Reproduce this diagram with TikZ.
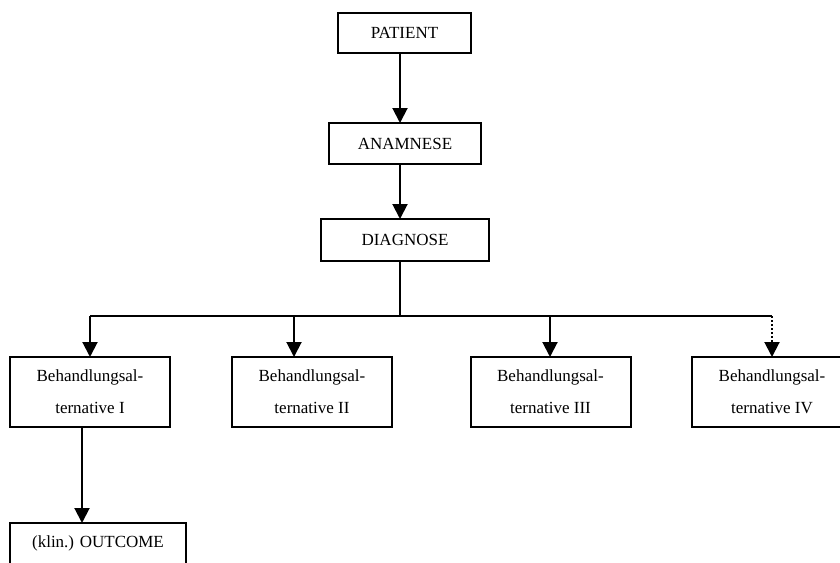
\documentclass[tikz,border=0pt]{standalone}
\usepackage{fontspec}
\setmainfont{Liberation Serif}
\usetikzlibrary{arrows.meta}
\begin{document}
\begin{tikzpicture}[x=1pt,y=-1pt,
  every node/.style={inner sep=0pt,outer sep=0pt},
  stepbox/.style={draw=black,line width=2pt,fill=white,
    font=\fontsize{17}{32}\selectfont,align=center},
  link/.style={line width=2pt,draw=black},
  arr/.style={link,-{Triangle[length=15pt,width=15pt]}}]
  \clip (0,0) rectangle (840,562);
  \fill[white] (0,0) rectangle (840,562);

  % main chain
  \node[stepbox,minimum width=133pt,minimum height=40pt] (patient) at (404.5,33) {PATIENT};
  \node[stepbox,minimum width=152pt,minimum height=41pt] (anamnese) at (405,143.5) {ANAMNESE};
  \node[stepbox,minimum width=168pt,minimum height=42pt] (diagnose) at (405,240) {DIAGNOSE};

  % treatment alternatives
  \node[stepbox,minimum width=160pt,minimum height=70pt] (alt1) at (90,392) {Behandlungsal-\\ternative I};
  \node[stepbox,minimum width=160pt,minimum height=70pt] (alt2) at (312,392) {Behandlungsal-\\ternative II};
  \node[stepbox,minimum width=160pt,minimum height=70pt] (alt3) at (550.5,392) {Behandlungsal-\\ternative III};
  \node[stepbox,minimum width=160pt,minimum height=70pt] (alt4) at (772,392) {Behandlungsal-\\ternative IV};

  % outcome
  \node[stepbox,minimum width=176pt,minimum height=41pt] (outcome) at (98,543.5) {(klin.) OUTCOME};

  % trunk and branch points
  \coordinate (trunk) at (400,0);
  \coordinate (bus) at (0,316);
  \coordinate (b1) at (90,316);
  \coordinate (b2) at (294,316);
  \coordinate (b3) at (550,316);
  \coordinate (b4) at (772,316);
  \coordinate (dot4) at (772,343);
  \coordinate (down1) at (82,0);

  \draw[arr] (patient.south -| trunk) -- (anamnese.north -| trunk);
  \draw[arr] (anamnese.south -| trunk) -- (diagnose.north -| trunk);
  \draw[link] (diagnose.south -| trunk) -- (bus -| trunk);
  \draw[link] (b1) -- (b4);
  \draw[arr] (b1) -- (alt1.north -| b1);
  \draw[arr] (b2) -- (alt2.north -| b2);
  \draw[arr] (b3) -- (alt3.north -| b3);
  \draw[link,dotted,line width=1.6pt] (b4) -- (dot4);
  \draw[arr,shorten <=-0.1pt] (dot4) -- (alt4.north -| b4);
  \draw[arr] (alt1.south -| down1) -- (outcome.north -| down1);
\end{tikzpicture}
\end{document}
